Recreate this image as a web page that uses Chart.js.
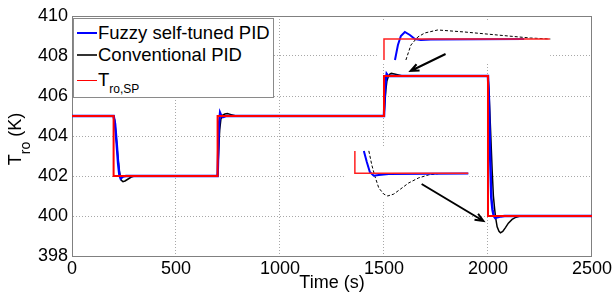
<!DOCTYPE html>
<html>
<head>
<meta charset="utf-8">
<script src="https://cdn.jsdelivr.net/npm/chart.js@4.4.0/dist/chart.umd.min.js"></script>
<style>
  body { margin: 0; background: #fff; }
  #wrap { position: relative; width: 614px; height: 295px; font-family: 'Liberation Sans', Arial, sans-serif; }
  #ytitle { position: absolute; left: -45px; top: 126.5px; width: 120px; height: 24px; line-height: 24px;
            font-size: 18px; text-align: center; transform: rotate(-90deg); white-space: nowrap; }
  #ytitle sub { font-size: 14px; vertical-align: baseline; position: relative; top: 9px; }
  #legend { position: absolute; left: 73px; top: 18px; width: 199px; height: 78px; background: #fff;
            border: 1px solid #8a8a8a; font-size: 18.5px; }
  #legend .row { position: absolute; left: 24px; height: 18px; line-height: 18px; white-space: nowrap; }
  #legend .swatch { position: absolute; left: 3px; width: 20px; }
  #legend sub { font-size: 12px; vertical-align: baseline; position: relative; top: 7px; }
</style>
</head>
<body>
<div id="wrap">
  <canvas id="tempChart" width="614" height="295"></canvas>
  <div id="ytitle">T<sub>ro</sub> (K)</div>
  <div id="legend">
    <div class="swatch" style="top:12.5px;border-top:2px solid #0000ff"></div>
    <div class="row" style="top:4.5px">Fuzzy self-tuned PID</div>
    <div class="swatch" style="top:34.5px;border-top:2px solid #333"></div>
    <div class="row" style="top:27px">Conventional PID</div>
    <div class="swatch" style="top:61px;border-top:1px solid #ff0000"></div>
    <div class="row" style="top:51.5px">T<sub>ro,SP</sub></div>
  </div>
</div>
<script>
// ***** data ***** //
const xTicks = [0, 500, 1000, 1500, 2000, 2500];
const yTicks = [398, 400, 402, 404, 406, 408, 410];

// set point
const spTime = [0, 200, 200, 700, 700, 1500, 1500, 2000, 2000, 2500];
const spTemp = [405, 405, 402, 402, 405, 405, 407, 407, 400, 400];

// fuzzy self-tuned PID
const fuzzyTime = [0, 200, 207, 215, 222, 228, 234, 245, 260,
  700, 703, 707, 712, 718, 725, 740,
  1500, 1503, 1507, 1513, 1520, 1530,
  2000, 2004, 2010, 2016, 2022, 2028, 2035, 2045, 2062, 2080, 2500];
const fuzzyTemp = [405, 405, 404.6, 403.6, 402.6, 402.05, 401.88, 401.97, 402,
  402, 403.2, 404.6, 405.15, 405.0, 404.95, 405,
  405, 405.9, 406.6, 407.1, 407.0, 407.0,
  407, 406, 403.2, 400.9, 400.3, 400.0, 399.9, 399.94, 399.98, 400, 400];

// conventional PID
const pidTime = [0, 200, 205, 212, 220, 228, 236, 245, 255, 270, 285, 300,
  700, 704, 710, 716, 725, 735, 747, 765, 790,
  1500, 1504, 1509, 1514, 1520, 1527, 1535, 1550, 1570, 1590,
  2000, 2005, 2012, 2020, 2026, 2032, 2037, 2044, 2053, 2060, 2071, 2084, 2098, 2116, 2135, 2155, 2500];
const pidTemp = [405, 405, 404.8, 404.0, 403.0, 402.2, 401.8, 401.72, 401.75, 401.85, 401.95, 402,
  402, 403, 404.3, 404.85, 405.05, 405.1, 405.12, 405.07, 405,
  405, 405.6, 406.3, 406.75, 406.95, 407.08, 407.13, 407.1, 407.05, 407.0,
  407, 406.2, 404.4, 402.3, 401.0, 400.35, 399.9, 399.46, 399.23, 399.16, 399.23, 399.42, 399.64, 399.83, 399.94, 400, 400];

// zoom of the step at 1500 s
const in1SpTime = [1500, 1500, 1604];
const in1SpTemp = [406.7, 407, 407];
const in1FuzzyTime = [1506.9, 1508.75, 1510.6, 1513.1, 1516.25, 1519.4, 1523.1, 1529.4, 1588];
const in1FuzzyTemp = [406.7, 406.914, 407.043, 407.1, 407.057, 407.0, 406.986, 406.993, 407];
const in1PidTime = [1513.75, 1516.9, 1521.25, 1525.6, 1533.75, 1550.6, 1571.25, 1591.9, 1604.4];
const in1PidTemp = [406.7, 406.914, 407.029, 407.086, 407.129, 407.1, 407.057, 407.014, 407];

// zoom of the step at 2000 s
const in2SpTime = [2000, 2000, 2207];
const in2SpTemp = [400.83, 400, 400];
const in2FuzzyTime = [2016.4, 2021.8, 2027.3, 2034.5, 2043.6, 2061.8, 2207];
const in2FuzzyTemp = [400.83, 400.42, 400.05, 399.91, 399.94, 399.97, 399.99];
const in2PidTime = [2025.5, 2030.9, 2036.4, 2043.6, 2052.7, 2060, 2070.9, 2083.6, 2098, 2116.4, 2134.5, 2152.7];
const in2PidTemp = [400.83, 400.31, 399.9, 399.46, 399.23, 399.16, 399.23, 399.42, 399.64, 399.83, 399.94, 399.99];

// ***** layout ***** //
const X_MIN = 0, X_MAX = 2500, Y_MIN = 398, Y_MAX = 410;
// where each zoom sits on the main axes and how much it is magnified
const inset1 = { xMain: 1500, xVal: 1500, xZoom: 7.66, yMain: 408.85, yVal: 407, yZoom: 3.5,
                 box: [1466, 2299, 407.7, 409.7] };
const inset2 = { xMain: 1360, xVal: 2000, xZoom: 2.634, yMain: 402.135, yVal: 400, yZoom: 1.35,
                 box: [1312, 1911, 400.8, 403.45] };
const arrows = [
  [1796, 408.1, 1628, 407.25],
  [1681, 401.6, 1978, 399.75]
];

function zoomRange(lo, hi, anchorMain, anchorVal, zoom) {
  const span = (hi - lo) / zoom;
  const min = anchorVal - (anchorMain - lo) / (hi - lo) * span;
  return { min: min, max: min + span };
}
function pts(t, v) { return t.map((x, i) => ({ x: x, y: v[i] })); }

const xi1 = zoomRange(X_MIN, X_MAX, inset1.xMain, inset1.xVal, inset1.xZoom);
const yi1 = zoomRange(Y_MIN, Y_MAX, inset1.yMain, inset1.yVal, inset1.yZoom);
const xi2 = zoomRange(X_MIN, X_MAX, inset2.xMain, inset2.xVal, inset2.xZoom);
const yi2 = zoomRange(Y_MIN, Y_MAX, inset2.yMain, inset2.yVal, inset2.yZoom);

const insetExtras = {
  id: 'insetExtras',
  beforeDatasetsDraw(chart) {
    const { ctx, scales: { x, y } } = chart;
    ctx.save();
    ctx.fillStyle = '#fff';
    [inset1, inset2].forEach(ins => {
      const [x0, x1, y0, y1] = ins.box;
      const px0 = x.getPixelForValue(x0), px1 = x.getPixelForValue(x1);
      const py0 = y.getPixelForValue(y1), py1 = y.getPixelForValue(y0);
      ctx.fillRect(px0, py0, px1 - px0, py1 - py0);
    });
    ctx.restore();
  },
  afterDatasetsDraw(chart) {
    const { ctx, scales: { x, y } } = chart;
    ctx.save();
    ctx.strokeStyle = '#000';
    ctx.lineWidth = 2;
    arrows.forEach(a => {
      const x0 = x.getPixelForValue(a[0]), y0 = y.getPixelForValue(a[1]);
      const x1 = x.getPixelForValue(a[2]), y1 = y.getPixelForValue(a[3]);
      const ang = Math.atan2(y1 - y0, x1 - x0);
      ctx.beginPath();
      ctx.moveTo(x0, y0);
      ctx.lineTo(x1, y1);
      ctx.moveTo(x1 - 9 * Math.cos(ang - 0.4), y1 - 9 * Math.sin(ang - 0.4));
      ctx.lineTo(x1, y1);
      ctx.lineTo(x1 - 9 * Math.cos(ang + 0.4), y1 - 9 * Math.sin(ang + 0.4));
      ctx.stroke();
    });
    ctx.restore();
  }
};

Chart.defaults.font.family = "'Liberation Sans', Arial, sans-serif";
Chart.defaults.color = '#000';

// ***** Temperature Chart ***** //
const tempCanvas = document.getElementById('tempChart');
if (tempCanvas) {
  const hidden = (lim) => ({ type: 'linear', display: false, min: lim.min, max: lim.max });
  const tempChart = new Chart(tempCanvas, {
    type: 'line',
    data: {
      datasets: [
        { label: 'T ro,SP', data: pts(spTime, spTemp), borderColor: '#ff0000', borderWidth: 2 },
        { label: 'Fuzzy self-tuned PID', data: pts(fuzzyTime, fuzzyTemp), borderColor: '#0000ff', borderWidth: 2.5 },
        { label: 'Conventional PID', data: pts(pidTime, pidTemp), borderColor: '#000000', borderWidth: 1.5 },
        { label: 'zoom1 sp', data: pts(in1SpTime, in1SpTemp), borderColor: '#ff2020', borderWidth: 1.5, xAxisID: 'xi1', yAxisID: 'yi1' },
        { label: 'zoom1 fuzzy', data: pts(in1FuzzyTime, in1FuzzyTemp), borderColor: '#0000ff', borderWidth: 2, xAxisID: 'xi1', yAxisID: 'yi1' },
        { label: 'zoom1 pid', data: pts(in1PidTime, in1PidTemp), borderColor: '#000', borderWidth: 1, borderDash: [3, 2], xAxisID: 'xi1', yAxisID: 'yi1' },
        { label: 'zoom2 sp', data: pts(in2SpTime, in2SpTemp), borderColor: '#ff2020', borderWidth: 1.5, xAxisID: 'xi2', yAxisID: 'yi2' },
        { label: 'zoom2 fuzzy', data: pts(in2FuzzyTime, in2FuzzyTemp), borderColor: '#0000ff', borderWidth: 2, xAxisID: 'xi2', yAxisID: 'yi2' },
        { label: 'zoom2 pid', data: pts(in2PidTime, in2PidTemp), borderColor: '#000', borderWidth: 1, borderDash: [3, 2], xAxisID: 'xi2', yAxisID: 'yi2' }
      ]
    },
    options: {
      responsive: false,
      animation: false,
      devicePixelRatio: 1,
      layout: { padding: 0 },
      elements: { point: { radius: 0 }, line: { tension: 0, fill: false } },
      plugins: { legend: { display: false }, tooltip: { enabled: false } },
      scales: {
        x: {
          type: 'linear', position: 'bottom', min: X_MIN, max: X_MAX,
          afterBuildTicks: s => { s.ticks = xTicks.map(v => ({ value: v })); },
          afterFit: s => { s.height = 39; },
          ticks: { font: { size: 18 }, padding: 2, maxRotation: 0, callback: v => String(v) },
          grid: { color: '#a8a8a8', drawTicks: false },
          border: { color: '#808080', dash: [1, 2] },
          title: { display: true, text: 'Time (s)', font: { size: 18 }, padding: { top: 0, bottom: 1 } }
        },
        y: {
          type: 'linear', position: 'left', min: Y_MIN, max: Y_MAX,
          afterBuildTicks: s => { s.ticks = yTicks.map(v => ({ value: v })); },
          afterFit: s => { s.width = 72; },
          ticks: { font: { size: 18 }, padding: 4, callback: v => String(v) },
          grid: { color: '#a8a8a8', drawTicks: false },
          border: { color: '#808080', dash: [1, 2] }
        },
        x2: {
          type: 'linear', position: 'top',
          afterFit: s => { s.height = 16; },
          ticks: { display: false }, grid: { display: false, drawTicks: false },
          border: { color: '#808080' }
        },
        y2: {
          type: 'linear', position: 'right',
          afterFit: s => { s.width = 20; },
          ticks: { display: false }, grid: { display: false, drawTicks: false },
          border: { color: '#808080' }
        },
        xi1: hidden(xi1), yi1: hidden(yi1),
        xi2: hidden(xi2), yi2: hidden(yi2)
      }
    },
    plugins: [insetExtras]
  });
}
</script>
</body>
</html>
